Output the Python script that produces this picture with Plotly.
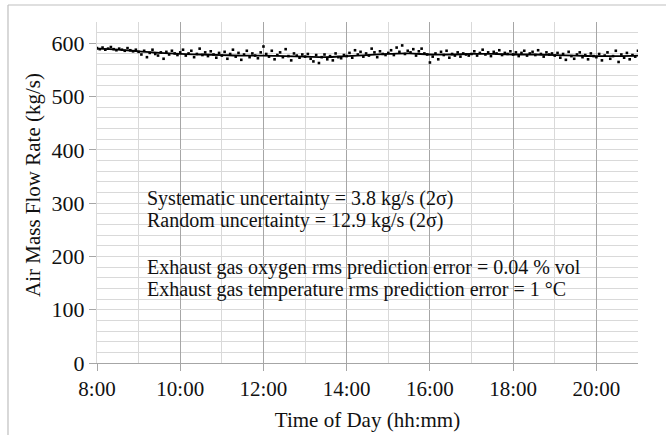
import plotly.graph_objects as go

# Measured air mass flow rate (kg/s), sampled every 4 minutes from 8:00 to 21:00
start_hour = 8.0
step_min = 4
flow_measured = [
    591, 589, 592, 588, 590, 593, 589, 587, 590, 588, 586, 591, 587, 585, 588,
    584, 579, 586, 574, 582, 588, 580, 577, 583, 571, 584, 579, 586, 581, 578,
    583, 588, 577, 581, 586, 574, 580, 590, 578, 583, 576, 585, 579, 573, 582,
    577, 584, 571, 580, 588, 575, 582, 569, 579, 586, 574, 581, 577, 572, 583,
    594, 580, 575, 586, 570, 578, 583, 574, 589, 576, 568, 581, 577, 573, 579,
    575, 580, 571, 566, 578, 563, 574, 579, 570, 576, 568, 581, 574, 572, 578,
    576, 582, 573, 587, 579, 584, 575, 581, 577, 590, 583, 574, 585, 580, 578,
    582, 587, 578, 592, 584, 596, 580, 586, 583, 589, 577, 585, 590, 581, 579,
    564, 575, 581, 570, 584, 578, 586, 573, 580, 577, 583, 575, 581, 579, 577,
    580, 585, 577, 582, 588, 579, 583, 576, 584, 581, 587, 578, 582, 580, 585,
    579, 583, 576, 582, 586, 577, 581, 584, 578, 587, 580, 575, 583, 579, 581,
    577, 582, 573, 580, 569, 584, 576, 571, 579, 583, 574, 578, 570, 581, 576,
    574, 580, 568, 577, 583, 571, 576, 586, 565, 579, 573, 582, 570, 578, 575,
    586,
]
time_measured = [start_hour + i * step_min / 60 for i in range(len(flow_measured))]

# Predicted (model) flow rate, every 30 minutes
time_pred = [8.0, 8.5, 9.0, 9.5, 10.0, 10.5, 11.0, 11.5, 12.0, 12.5, 13.0, 13.5,
             14.0, 14.5, 15.0, 15.5, 16.0, 16.5, 17.0, 17.5, 18.0, 18.5, 19.0,
             19.5, 20.0, 20.5, 21.0]
flow_pred = [590, 588, 585, 582, 580, 579, 578, 577, 577, 576, 575, 574,
             576, 578, 580, 581, 579, 579, 580, 580, 579, 579, 578,
             577, 576, 576, 577]

x_tick_vals = [8, 10, 12, 14, 16, 18, 20]
x_tick_text = ["8:00", "10:00", "12:00", "14:00", "16:00", "18:00", "20:00"]
y_tick_vals = [0, 100, 200, 300, 400, 500, 600]

notes = [
    ("Systematic uncertainty = 3.8 kg/s (2σ)", 308),
    ("Random uncertainty = 12.9 kg/s (2σ)", 267),
    ("Exhaust gas oxygen rms prediction error = 0.04 % vol", 179),
    ("Exhaust gas temperature rms prediction error = 1 °C", 138),
]

FONT = "Liberation Serif, Times New Roman, serif"
TXT = "#111111"

fig = go.Figure()
fig.add_trace(go.Scatter(
    x=time_measured, y=flow_measured, mode="markers",
    marker=dict(size=2.6, color="black", symbol="square"),
    showlegend=False, hoverinfo="skip",
))
fig.add_trace(go.Scatter(
    x=time_pred, y=flow_pred, mode="lines", line_shape="spline",
    line=dict(color="black", width=1.8), showlegend=False, hoverinfo="skip",
))

for text, yv in notes:
    fig.add_annotation(x=9.15, y=yv, text=text, showarrow=False,
                       xanchor="left", yanchor="middle",
                       font=dict(family=FONT, size=20, color=TXT))

W, H = 666, 435
L, R, T, B = 97, 28, 22, 72
pw, ph = W - L - R, H - T - B

def px_x(p):
    return (p - L) / pw

def px_y(p):
    return (H - B - p) / ph

# y-axis title placed as rotated text
fig.add_annotation(xref="paper", yref="paper", x=px_x(33), y=px_y(185),
                   text="Air Mass Flow Rate (kg/s)", textangle=-90, showarrow=False,
                   xanchor="center", yanchor="middle",
                   font=dict(family=FONT, size=21, color=TXT))

# outer chart border (top and left edges visible)
fig.add_shape(type="line", xref="paper", yref="paper",
              x0=px_x(8), x1=px_x(700), y0=px_y(5), y1=px_y(5),
              line=dict(color="#bfbfbf", width=1.2))
fig.add_shape(type="line", xref="paper", yref="paper",
              x0=px_x(8), x1=px_x(8), y0=px_y(5), y1=px_y(500),
              line=dict(color="#bfbfbf", width=1.2))

fig.update_layout(
    width=W, height=H,
    margin=dict(l=L, r=R, t=T, b=B),
    paper_bgcolor="white", plot_bgcolor="white",
    font=dict(family=FONT, size=22, color=TXT),
    xaxis=dict(
        range=[8, 21], tickvals=x_tick_vals, ticktext=x_tick_text,
        automargin=False,
        showgrid=True, gridcolor="#a6a6a6", gridwidth=1,
        minor=dict(dtick=1, tick0=8, showgrid=True, gridcolor="#d9d9d9", gridwidth=1),
        ticks="outside", ticklen=7, tickcolor="#a6a6a6",
        showline=True, linecolor="#a6a6a6", linewidth=1,
        zeroline=False,
        title=dict(text="Time of Day (hh:mm)", font=dict(size=21), standoff=12),
        tickfont=dict(size=21),
    ),
    yaxis=dict(
        range=[0, 640], tickvals=y_tick_vals,
        automargin=False,
        showgrid=True, gridcolor="#d9d9d9", gridwidth=1,
        minor=dict(dtick=20, tick0=0, showgrid=True, gridcolor="#d9d9d9", gridwidth=1),
        ticks="outside", ticklen=7, tickcolor="#a6a6a6",
        showline=True, linecolor="#d9d9d9", linewidth=1,
        zeroline=False,
        tickfont=dict(size=22),
    ),
)

fig.write_html("out.html", config={"displayModeBar": False},
               post_script="document.body.style.margin='0';document.body.style.padding='0';")
